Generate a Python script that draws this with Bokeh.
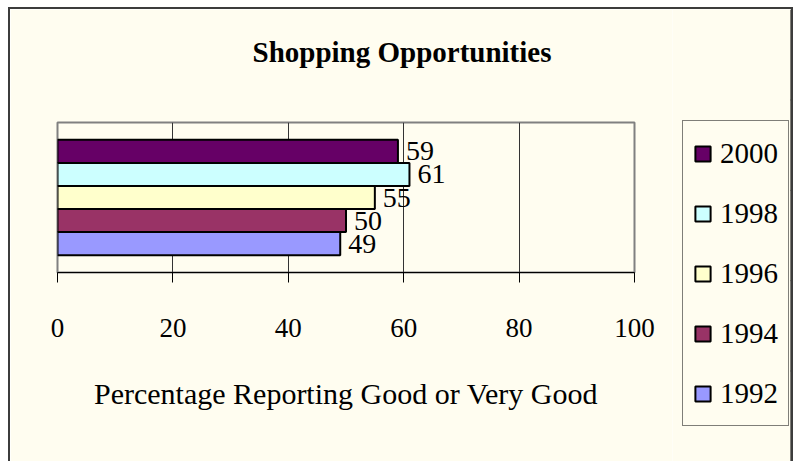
from bokeh.plotting import figure
from bokeh.layouts import row
from bokeh.models import Range1d, FactorRange, ColumnDataSource, FixedTicker, Title
from bokeh.core.properties import value
from bokeh.embed import file_html
from bokeh.resources import INLINE

# ---- data ----
years = ["2000", "1998", "1996", "1994", "1992"]
values = [59, 61, 55, 50, 49]
colors = ["#660066", "#CCFFFF", "#FFFFCC", "#993366", "#9999FF"]
x_ticks = [0, 20, 40, 60, 80, 100]
title_text = "Shopping Opportunities"
x_label = "Percentage Reporting Good or Very Good"

FONT = "Liberation Serif"
BG = "#FFFDF0"

source = ColumnDataSource(dict(year=years, value=values, color=colors,
                               label=[str(v) for v in values]))
factors = list(reversed(years))

# ---------- main chart ----------
p = figure(width=662, height=452, output_backend="svg", toolbar_location=None,
           x_range=Range1d(0, 100),
           y_range=FactorRange(factors=factors, range_padding=0.30, factor_padding=0),
           min_border_left=47, min_border_right=38, min_border_top=113,
           min_border_bottom=189)
p.frame_align = False

p.background_fill_color = BG
p.border_fill_color = BG
p.outline_line_color = "#808080"
p.outline_line_width = 2

# spacer (nearest the frame) then the title above it
p.add_layout(Title(text=" ", text_font_size="43px", standoff=0), "above")
p.add_layout(Title(text=title_text, align="left", offset=195,
                   text_font=FONT, text_font_size="29px",
                   text_font_style="bold", text_color="black"), "above")

p.hbar(y="year", right="value", left=0, height=1.0, source=source,
       fill_color="color", line_color="black", line_width=2)

p.text(x="value", y="year", text="label", source=source, x_offset=8,
       text_baseline="middle", text_align="left",
       text_font=value(FONT), text_font_size="28px", text_color="black")

p.yaxis.visible = False
p.ygrid.visible = False
xa = p.xaxis[0]
xa.ticker = FixedTicker(ticks=x_ticks)
xa.minor_tick_line_color = None
xa.major_tick_in = 0
xa.major_tick_out = 10
xa.major_tick_line_color = "black"
xa.axis_line_color = "black"
xa.major_label_text_font = FONT
xa.major_label_text_font_size = "27px"
xa.major_label_text_color = "black"
xa.major_label_standoff = 36
xa.axis_label = x_label
xa.axis_label_text_font = FONT
xa.axis_label_text_font_style = "normal"
xa.axis_label_text_font_size = "30px"
xa.axis_label_text_color = "black"
xa.axis_label_standoff = 37
p.xgrid.grid_line_color = "#333333"
p.xgrid.grid_line_width = 1

# ---------- legend panel (its bars lie outside its visible range) ----------
lf = figure(width=119, height=452, output_backend="svg", toolbar_location=None,
            x_range=Range1d(-20, -10),
            y_range=FactorRange(factors=factors),
            min_border=0, title=None)
lf.frame_align = False
lf.background_fill_color = BG
lf.border_fill_color = BG
lf.outline_line_color = None
lf.xaxis.visible = False
lf.yaxis.visible = False
lf.grid.visible = False
lf.hbar(y="year", right="value", left=0, height=1.0, source=source,
        fill_color="color", line_color="black", line_width=2,
        legend_field="year")

lg = lf.legend[0]
lg.location = (10, 35)
lg.border_line_color = "black"
lg.border_line_width = 1
lg.background_fill_color = BG
lg.background_fill_alpha = 1
lg.padding = 10
lg.spacing = 16
lg.margin = 0
lg.label_height = 44
lg.glyph_height = 19
lg.glyph_width = 19
lg.label_standoff = 8
lg.label_text_font = FONT
lg.label_text_font_size = "29px"
lg.label_text_color = "black"
lg.label_text_baseline = "middle"

layout = row(p, lf, styles={"margin-left": "8px", "margin-top": "7px",
                            "border-left": "2px solid #3c3c3c",
                            "border-top": "2px solid #3c3c3c",
                            "border-right": "2px solid #3c3c3c"})

open("out.html", "w").write(file_html(layout, INLINE))
